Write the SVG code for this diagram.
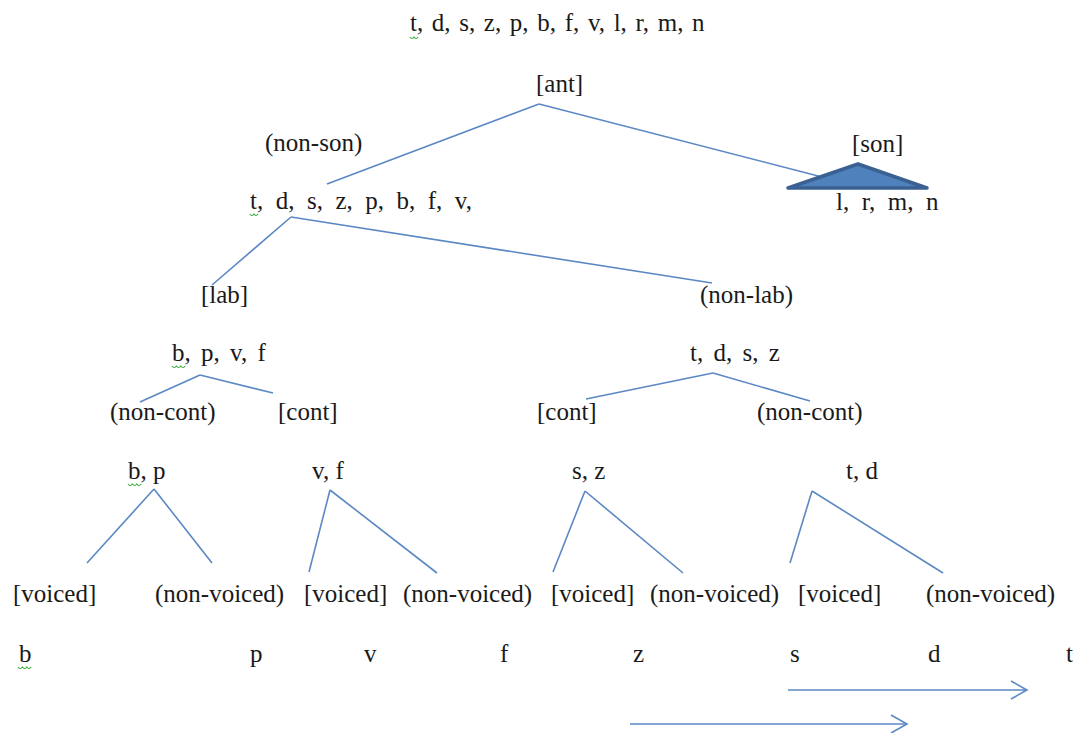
<svg xmlns="http://www.w3.org/2000/svg" width="1073" height="733" viewBox="0 0 1073 733">
<style>
text{font-family:'Liberation Serif','DejaVu Serif',serif;font-size:25px;fill:#1a1a1a;white-space:pre}
.ln{stroke:#5b88c4;stroke-width:1.6;fill:none}
.sq{stroke:#3aa83a;stroke-width:1.2;fill:none}
</style>
<defs>
<marker id="chev" markerWidth="20" markerHeight="22" refX="17" refY="10" orient="auto" markerUnits="userSpaceOnUse">
<path d="M1,1 L17,10 L1,19" fill="none" stroke="#5b88c4" stroke-width="1.6"/>
</marker>
</defs>
<rect width="1073" height="733" fill="#ffffff"/>
<g id="connectors">
<line class="ln" x1="539" y1="104" x2="327" y2="184"/>
<line class="ln" x1="539" y1="104" x2="822" y2="177"/>
<line class="ln" x1="291" y1="217" x2="212" y2="285"/>
<line class="ln" x1="291" y1="217" x2="712" y2="283"/>
<line class="ln" x1="200" y1="375" x2="140" y2="402"/>
<line class="ln" x1="200" y1="375" x2="273" y2="393"/>
<line class="ln" x1="713" y1="373" x2="586" y2="399"/>
<line class="ln" x1="713" y1="373" x2="810" y2="401"/>
<line class="ln" x1="154" y1="489" x2="87" y2="563"/>
<line class="ln" x1="154" y1="489" x2="212" y2="563"/>
<line class="ln" x1="330" y1="490" x2="309" y2="572"/>
<line class="ln" x1="330" y1="490" x2="437" y2="573"/>
<line class="ln" x1="585" y1="491" x2="553" y2="572"/>
<line class="ln" x1="585" y1="491" x2="683" y2="573"/>
<line class="ln" x1="812" y1="491" x2="790" y2="563"/>
<line class="ln" x1="812" y1="491" x2="943" y2="573"/>
<line class="ln" x1="788" y1="690" x2="1027" y2="690" marker-end="url(#chev)"/>
<line class="ln" x1="630" y1="724" x2="907" y2="724" marker-end="url(#chev)"/>
</g>
<g font-family="Liberation Serif, DejaVu Serif, serif">
<g id="n-root"><text x="410" y="31" style="word-spacing:2.4px">t, d, s, z, p, b, f, v, l, r, m, n</text><path class="sq" d="M410,37 q2,3 4,0 q2,3 4,0"/></g>
<g id="n-ant"><text x="536" y="92">[ant]</text></g>
<g id="n-nonson"><text x="265" y="151">(non-son)</text></g>
<g id="n-son"><text x="852" y="152">[son]</text>
<polygon points="858,164 788,188 927,188" fill="#4f81bd" stroke="#3b6092" stroke-width="3.5" stroke-linejoin="round"/></g>
<g id="n-obstruents"><text x="250" y="209">t,  d,  s,  z,  p,  b,  f,  v,</text><path class="sq" d="M250,214 q2,3 4,0 q2,3 4,0"/></g>
<g id="n-sonorants"><text x="836" y="210">l,  r,  m,  n</text></g>
<g id="n-lab"><text x="201" y="303">[lab]</text></g>
<g id="n-nonlab"><text x="700" y="303">(non-lab)</text></g>
<g id="n-bpvf"><text x="172" y="361" style="word-spacing:4px">b, p, v, f</text><path class="sq" d="M172,366 q2.2,3 4.4,0 q2.2,3 4.4,0 q2.2,3 4.4,0"/></g>
<g id="n-tdsz"><text x="690" y="361" style="word-spacing:4px">t, d, s, z</text></g>
<g id="n-noncont1"><text x="110" y="420">(non-cont)</text></g>
<g id="n-cont1"><text x="278" y="420">[cont]</text></g>
<g id="n-cont2"><text x="537" y="420">[cont]</text></g>
<g id="n-noncont2"><text x="757" y="420">(non-cont)</text></g>
<g id="n-bp"><text x="128" y="479">b, p</text><path class="sq" d="M128,484 q2.2,3 4.4,0 q2.2,3 4.4,0 q2.2,3 4.4,0"/></g>
<g id="n-vf"><text x="312" y="479">v, f</text></g>
<g id="n-sz"><text x="572" y="479">s, z</text></g>
<g id="n-td"><text x="846" y="479">t, d</text></g>
<g id="n-v1"><text x="13" y="602">[voiced]</text></g>
<g id="n-nv1"><text x="155" y="602">(non-voiced)</text></g>
<g id="n-v2"><text x="304" y="602">[voiced]</text></g>
<g id="n-nv2"><text x="403" y="602">(non-voiced)</text></g>
<g id="n-v3"><text x="551" y="602">[voiced]</text></g>
<g id="n-nv3"><text x="650" y="602">(non-voiced)</text></g>
<g id="n-v4"><text x="798" y="602">[voiced]</text></g>
<g id="n-nv4"><text x="926" y="602">(non-voiced)</text></g>
<g id="n-b"><text x="19" y="662">b</text><path class="sq" d="M18,667 q2.2,3 4.4,0 q2.2,3 4.4,0 q2.2,3 4.4,0"/></g>
<g id="n-p"><text x="250" y="662">p</text></g>
<g id="n-v"><text x="364" y="662">v</text></g>
<g id="n-f"><text x="500" y="662">f</text></g>
<g id="n-z"><text x="633" y="662">z</text></g>
<g id="n-s"><text x="790" y="662">s</text></g>
<g id="n-d"><text x="928" y="662">d</text></g>
<g id="n-t"><text x="1066" y="662">t</text></g>
</g>
</svg>
